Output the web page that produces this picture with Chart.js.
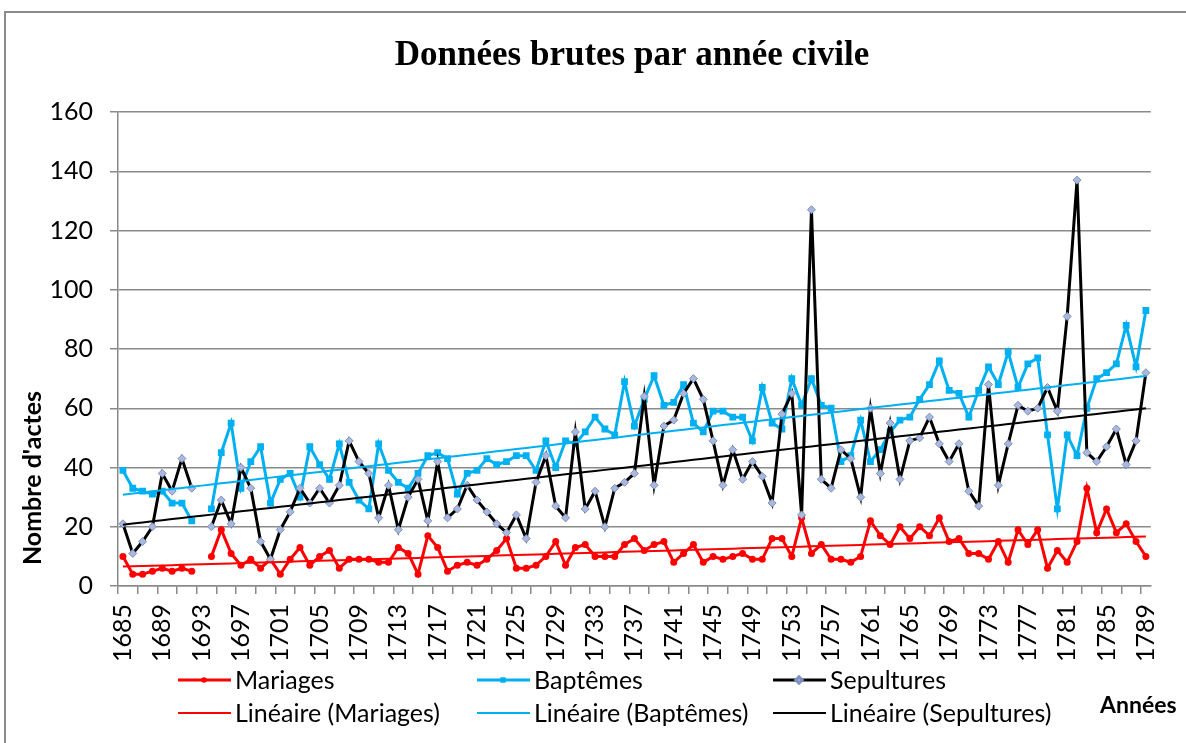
<!DOCTYPE html>
<html>
<head>
<meta charset="utf-8">
<script src="https://cdn.jsdelivr.net/npm/chart.js@4.4.1/dist/chart.umd.min.js"></script>
<style>
  html, body { margin: 0; padding: 0; background: #fff; overflow: hidden; }
  #frame { position: absolute; left: 4px; top: 11px; width: 1200px; height: 800px; border: 2px solid #8a8a8a; }
  #chart { position: absolute; left: 0; top: 0; }
</style>
</head>
<body>
<div id="frame"></div>
<canvas id="chart" width="1186" height="743"></canvas>
<script>
// years 1685..1789
const years = [];
for (let y = 1685; y <= 1789; y++) years.push(String(y));

const mariages = [
  10, 4, 4, 5, 6, 5, 6, 5, null, 10, 19, 11, 7, 9, 6, 9, 4,
  9, 13, 7, 10, 12, 6, 9, 9, 9, 8, 8, 13, 11, 4, 17, 13, 5,
  7, 8, 7, 9, 12, 16, 6, 6, 7, 10, 15, 7, 13, 14, 10, 10, 10,
  14, 16, 12, 14, 15, 8, 11, 14, 8, 10, 9, 10, 11, 9, 9, 16, 16,
  10, 23, 11, 14, 9, 9, 8, 10, 22, 17, 14, 20, 16, 20, 17, 23,
  15, 16, 11, 11, 9, 15, 8, 19, 14, 19, 6, 12, 8, 15, 33, 18, 26, 18, 21, 15, 10
];

const baptemes = [
  39, 33, 32, 31, 32, 28, 28, 22, null, 26, 45, 55, 33, 42, 47, 28, 36,
  38, 30, 47, 41, 36, 48, 35, 29, 26, 48, 39, 35, 33, 38, 44, 45, 43,
  31, 38, 39, 43, 41, 42, 44, 44, 39, 49, 40, 49, 48, 52, 57, 53, 51,
  69, 54, 63, 71, 61, 62, 68, 55, 52, 59, 59, 57, 57, 49, 67, 55, 53,
  70, 61, 70, 61, 60, 42, 44, 56, 42, 46, 52, 56, 57, 63, 68, 76,
  66, 65, 57, 66, 74, 68, 79, 67, 75, 77, 51, 26, 51, 44, 60, 70, 72, 75, 88, 74, 93
];

const sepultures = [
  21, 11, 15, 20, 38, 32, 43, 33, null, 20, 29, 21, 40, 33, 15, 9, 19,
  25, 33, 28, 33, 28, 34, 49, 42, 38, 23, 34, 19, 30, 36, 22, 42, 23,
  26, 34, 29, 25, 21, 18, 24, 16, 35, 44, 27, 23, 52, 26, 32, 20, 33,
  35, 38, 64, 34, 54, 56, 65, 70, 63, 49, 34, 46, 36, 42, 37, 28, 58,
  65, 24, 127, 36, 33, 46, 43, 30, 60, 38, 55, 36, 49, 50, 57, 48,
  42, 48, 32, 27, 68, 34, 48, 61, 59, 60, 67, 59, 91, 137, 45, 42, 47, 53, 41, 49, 72
];

const yTicks = { min: 0, max: 160, step: 20 };

const RED = '#ff0000';
const BLUE = '#00b0f0';
const BLACK = '#000000';
const GRID = '#8a8a8a';
const FONT = 'Lato';

// least squares trendline (x = category number, gaps skipped), like Excel
function linear(arr) {
  let n = 0, sx = 0, sy = 0, sxx = 0, sxy = 0;
  arr.forEach((v, i) => {
    if (v == null) return;
    const x = i + 1;
    n++; sx += x; sy += v; sxx += x * x; sxy += x * v;
  });
  const b = (n * sxy - sx * sy) / (n * sxx - sx * sx);
  const a = (sy - b * sx) / n;
  return arr.map((_, i) => a + b * (i + 1));
}

const datasets = [
  {
    label: 'Mariages', data: mariages, borderColor: RED, backgroundColor: RED,
    borderWidth: 3, pointStyle: 'circle', pointRadius: 3.5, pointBorderWidth: 0, order: 4
  },
  {
    label: 'Baptêmes', data: baptemes, borderColor: BLUE, backgroundColor: BLUE,
    borderWidth: 3, pointStyle: 'rect', pointRadius: 4.8, pointBorderWidth: 0, order: 3
  },
  {
    label: 'Sepultures', data: sepultures, borderColor: BLACK, backgroundColor: '#a9b8db',
    pointBorderColor: '#7b8fc0', borderWidth: 3, pointStyle: 'rectRot', pointRadius: 4,
    pointBorderWidth: 1, order: 2
  },
  {
    label: 'Linéaire (Mariages)', data: linear(mariages), borderColor: RED, backgroundColor: RED,
    borderWidth: 2, pointRadius: 0, order: 1
  },
  {
    label: 'Linéaire (Baptêmes)', data: linear(baptemes), borderColor: BLUE, backgroundColor: BLUE,
    borderWidth: 2, pointRadius: 0, order: 1
  },
  {
    label: 'Linéaire (Sepultures)', data: linear(sepultures), borderColor: BLACK, backgroundColor: BLACK,
    borderWidth: 2, pointRadius: 0, order: 1
  }
];

// title, axis titles and the two-row legend, placed like the original
const decorations = {
  id: 'decorations',
  afterDraw(chart) {
    const ctx = chart.ctx;
    ctx.save();
    ctx.fillStyle = '#000';
    ctx.textBaseline = 'middle';

    ctx.font = 'bold 35px "Liberation Serif"';
    ctx.textAlign = 'center';
    ctx.fillText('Données brutes par année civile', 632, 56);

    ctx.font = 'bold 25px ' + FONT;
    ctx.save();
    ctx.translate(33, 478);
    ctx.rotate(-Math.PI / 2);
    ctx.fillText("Nombre d'actes", 0, 0);
    ctx.restore();

    ctx.font = 'bold 23px ' + FONT;
    ctx.textAlign = 'left';
    ctx.fillText('Années', 1100, 706);

    const cols = [178, 477, 773];
    const rows = [680, 713];
    ctx.font = '25px ' + FONT;
    chart.data.datasets.forEach((ds, i) => {
      const x = cols[i % 3], y = rows[Math.floor(i / 3)];
      ctx.strokeStyle = ds.borderColor;
      ctx.lineWidth = ds.borderWidth;
      ctx.beginPath();
      ctx.moveTo(x, y);
      ctx.lineTo(x + 53, y);
      ctx.stroke();
      if (ds.pointRadius > 0) {
        ctx.fillStyle = ds.backgroundColor;
        ctx.strokeStyle = ds.pointBorderColor || ds.borderColor;
        Chart.helpers.drawPoint(ctx, {
          pointStyle: ds.pointStyle, radius: ds.pointRadius * 0.8, rotation: 0,
          borderWidth: ds.pointBorderWidth
        }, x + 26, y);
      }
      ctx.fillStyle = '#000';
      ctx.fillText(ds.label, x + 57, y + 1);
    });
    ctx.restore();
  }
};

new Chart(document.getElementById('chart'), {
  type: 'line',
  data: { labels: years, datasets: datasets },
  plugins: [decorations],
  options: {
    responsive: false,
    animation: false,
    events: [],
    layout: { padding: { left: 0, top: 112, right: 25, bottom: 0 } },
    elements: { line: { tension: 0 } },
    plugins: {
      legend: { display: false },
      title: { display: false },
      tooltip: { enabled: false }
    },
    scales: {
      x: {
        type: 'category',
        offset: true,
        afterFit: (s) => { s.height = 157; },
        grid: {
          offset: true,
          drawOnChartArea: false,
          drawTicks: true,
          tickLength: 8,
          lineWidth: 1.5,
          color: (c) => (c.index % 2 === 0 ? GRID : 'rgba(0,0,0,0)')
        },
        border: { display: true, color: GRID, width: 1.5 },
        ticks: {
          autoSkip: false,
          minRotation: 90,
          maxRotation: 90,
          padding: 10,
          color: '#000',
          font: { family: FONT, size: 25 },
          callback: (v, i) => (i % 4 === 0 ? years[i] : '')
        }
      },
      y: {
        min: yTicks.min,
        max: yTicks.max,
        afterFit: (s) => { s.width = 118; },
        grid: { color: GRID, lineWidth: 1.5, tickLength: 8 },
        border: { display: true, color: GRID, width: 1.5 },
        ticks: {
          stepSize: yTicks.step,
          padding: 17,
          color: '#000',
          font: { family: FONT, size: 25 }
        }
      }
    }
  }
});
</script>
</body>
</html>
